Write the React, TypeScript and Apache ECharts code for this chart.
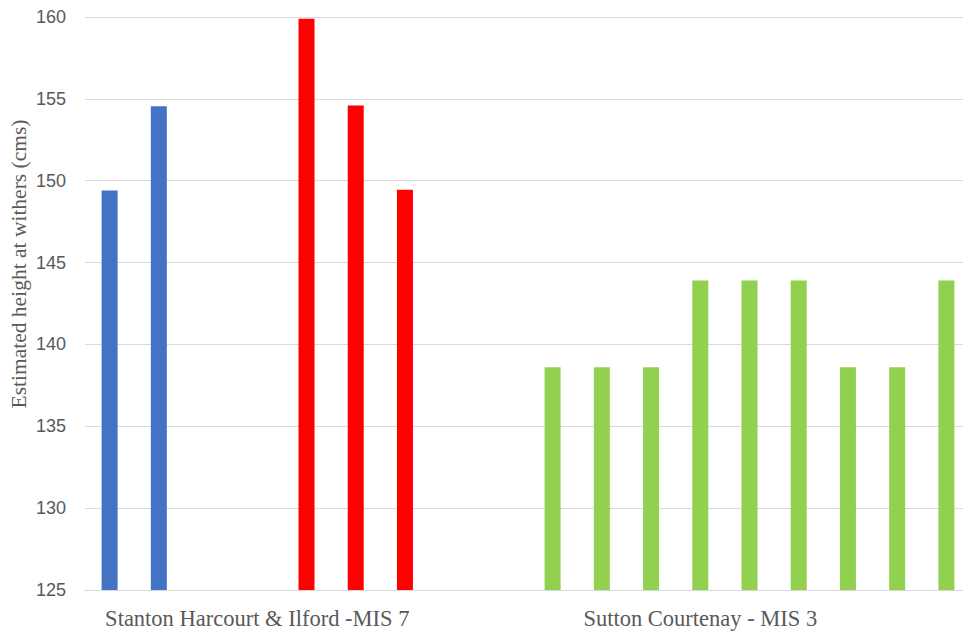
import React, { useEffect, useRef } from "react";
import * as echarts from "echarts";

const slots = ["s1", "s2", "s3", "s4", "s5", "s6", "s7", "s8", "s9", "s10", "s11", "s12", "s13", "s14", "s15", "s16", "s17", "s18"];
const groupLabels: Record<number, string> = {
  3: "Stanton Harcourt & Ilford -MIS 7",
  12: "Sutton Courtenay - MIS 3",
};
const blueValues = [149.4, 154.55, null, null, null, null, null, null, null, null, null, null, null, null, null, null, null, null];
const redValues = [null, null, null, null, 159.9, 154.6, 149.45, null, null, null, null, null, null, null, null, null, null, null];
const greenValues = [null, null, null, null, null, null, null, null, null, 138.6, 138.6, 138.6, 143.9, 143.9, 143.9, 138.6, 138.6, 143.9];
const yTicks = { min: 125, max: 160, interval: 5 };
const yTitle = "Estimated height at withers (cms)";

export default function App() {
  const ref = useRef<HTMLDivElement>(null);
  useEffect(() => {
    if (!ref.current) return;
    const chart = echarts.init(ref.current, null, { renderer: "svg" });
    chart.setOption({
      animation: false,
      grid: { left: 85, right: 0, top: 17, bottom: 42, containLabel: false },
      xAxis: {
        type: "category",
        data: slots,
        axisTick: { show: false },
        axisLine: { lineStyle: { color: "#d9d9d9", width: 1 } },
        axisLabel: {
          interval: 0,
          margin: 17,
          formatter: (_v: string, idx: number) => groupLabels[idx] || "",
          fontFamily: "Liberation Serif",
          fontSize: 22.5,
          color: "#595959",
        },
      },
      yAxis: {
        type: "value",
        min: yTicks.min,
        max: yTicks.max,
        interval: yTicks.interval,
        axisLine: { show: false },
        axisTick: { show: false },
        splitLine: { lineStyle: { color: "#d9d9d9", width: 1 } },
        axisLabel: {
          margin: 19,
          fontFamily: "Liberation Sans",
          fontSize: 18,
          color: "#595959",
        },
      },
      graphic: [
        {
          type: "text",
          x: 19,
          y: 264,
          rotation: Math.PI / 2,
          style: {
            text: yTitle,
            fontFamily: "Liberation Serif",
            fontSize: 21.5,
            fill: "#595959",
            textAlign: "center",
            textVerticalAlign: "middle",
          },
        },
      ],
      series: [
        { type: "bar", data: blueValues, barWidth: 16, barGap: "-100%", itemStyle: { color: "#4472C4" } },
        { type: "bar", data: redValues, barWidth: 16, barGap: "-100%", itemStyle: { color: "#FF0000" } },
        { type: "bar", data: greenValues, barWidth: 16, barGap: "-100%", itemStyle: { color: "#92D050" } },
      ],
    });
    return () => chart.dispose();
  }, []);
  return (
    <div style={{ position: "absolute", left: 0, top: 0, width: 963, height: 632, overflow: "hidden" }}>
      <div ref={ref} style={{ width: 971, height: 632 }} />
    </div>
  );
}
